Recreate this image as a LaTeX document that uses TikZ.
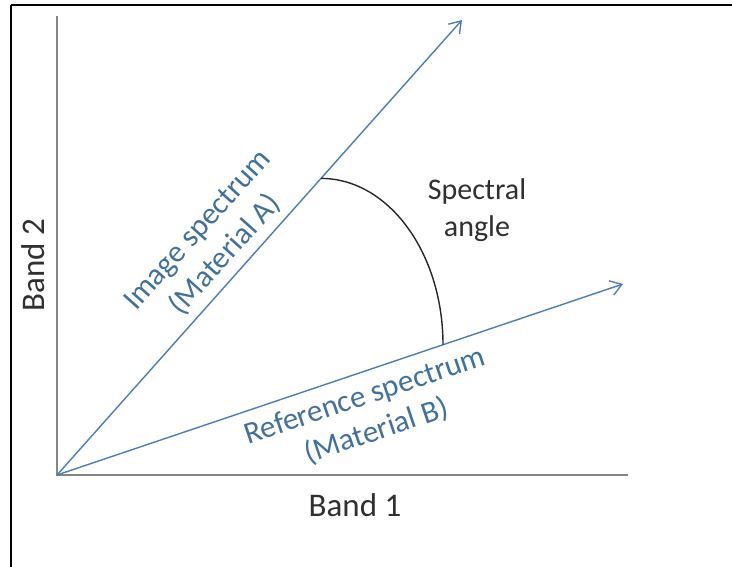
\documentclass[tikz,border=0pt]{standalone}
\usepackage{fontspec}
\setmainfont{Carlito}
\usetikzlibrary{arrows.meta}
\definecolor{vecblue}{HTML}{4A7EBB}
\definecolor{txtblue}{HTML}{41719C}
\definecolor{axisgrey}{HTML}{858585}
\definecolor{txtdark}{HTML}{303030}
\tikzset{
  axisline/.style={draw=axisgrey, line width=2pt},
  vecline/.style={draw=vecblue, line width=1.4pt, -{Straight Barb[length=11pt,width=15pt,line width=1.4pt]}},
  veclabel/.style={text=txtblue, font=\fontsize{31}{37}\selectfont, align=center, inner sep=0pt},
  axislabel/.style={text=txtdark, font=\fontsize{33}{38}\selectfont, inner sep=0pt},
  anglelabel/.style={text=txtdark, font=\fontsize{30}{37}\selectfont, align=center, inner sep=0pt},
  anglearc/.style={draw=black!85, line width=1.4pt},
}
\begin{document}
\begin{tikzpicture}[x=1pt, y=-1pt]
\useasboundingbox (0,0) rectangle (732,566);
\clip (0,0) rectangle (732,566);
% frame
\draw[black, line width=2.2pt] (11,5) -- (760,5);
\draw[black, line width=2.2pt] (11,5) -- (11,600);
% axes
\coordinate (O) at (57,475);
\coordinate (ytop) at (57,16);
\coordinate (xend) at (628,475);
\draw[axisline] (ytop) -- (O) -- (xend);
% vectors
\coordinate (A) at (462,20);
\coordinate (B) at (623,284);
\draw[vecline] (O) -- (A);
\draw[vecline] (O) -- (B);
% spectral angle arc: quarter ellipse from a point on A to a point on B
\coordinate (arcA) at (321,178.4);
\coordinate (arcB) at (443,344.7);
\draw[anglearc] (arcA) arc[start angle=-90, end angle=0, x radius=122, y radius=166.3];
% labels
\node[axislabel, rotate=90] (b2) at (33,265) {Band 2};
\node[axislabel] (b1) at (355,505) {Band 1};
\node[anglelabel] (sa) at (477,210) {Spectral\\angle};
\node[veclabel, rotate=48.1] (la) at (212,243) {Image spectrum\\(Material A)};
\node[veclabel, rotate=18.6] (lb) at (371,414) {Reference spectrum\\(Material B)};
\end{tikzpicture}
\end{document}
